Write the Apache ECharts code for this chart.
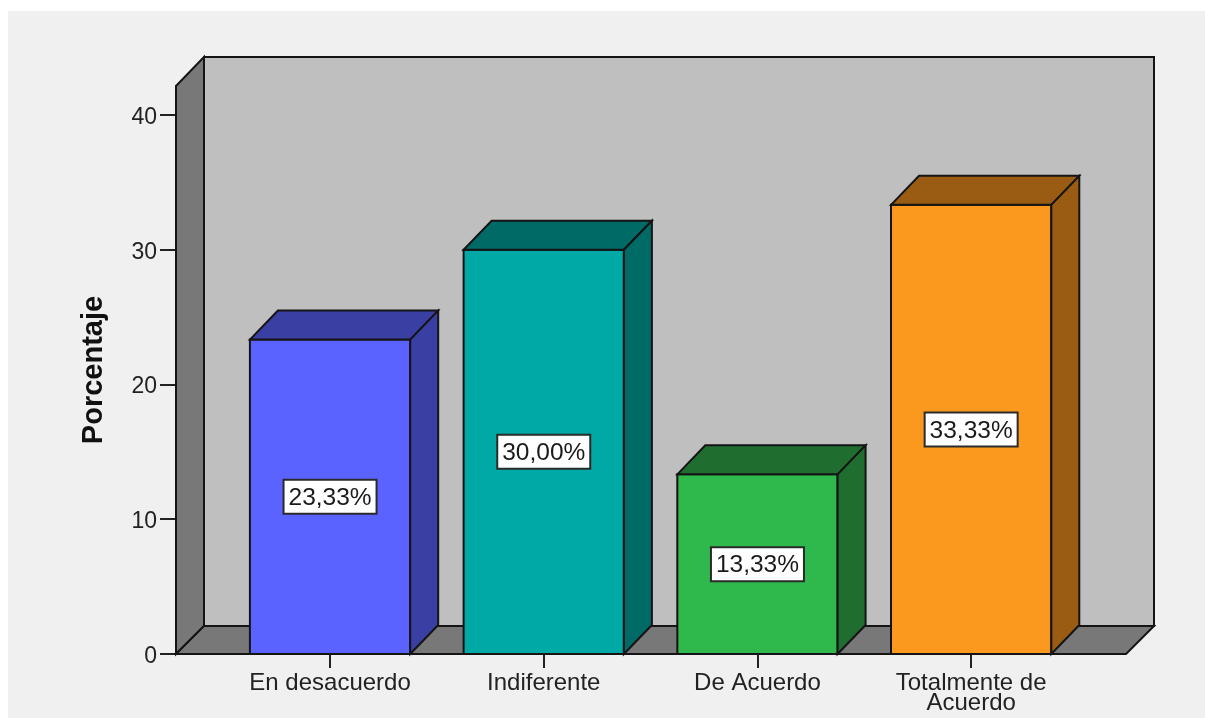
<!DOCTYPE html>
<html>
<head>
<meta charset="utf-8">
<style>
html,body{margin:0;padding:0;background:#fff;width:1205px;height:718px;overflow:hidden}
#panel{position:absolute;left:8px;top:11px;right:0;bottom:0;background:#f0f0f0}
#chart{position:absolute;left:0;top:0;width:1205px;height:718px}
</style>
<script src="https://cdn.jsdelivr.net/npm/echarts@6/dist/echarts.min.js"></script>
</head>
<body>
<div id="panel"></div>
<div id="chart"></div>
<script>
const categories = ['En desacuerdo', 'Indiferente', 'De Acuerdo', 'Totalmente de\nAcuerdo'];
const percentages = [23.33, 30.00, 13.33, 33.33];
const frontColors = ['#5A62FF', '#00A8A6', '#2FB84C', '#FB991F'];
const sideColors = ['#3A3FA3', '#006A66', '#1F6E30', '#9A5C12'];
const yTicks = [0, 10, 20, 30, 40];

const DX = 28, DY = 29, YMAX = 42.15;
const LEFT_GAP = 47.2, RIGHT_GAP = 48;
const STROKE = '#141414';
const FONT = 'Liberation Sans';

function poly(points, fill) {
  return {
    type: 'polygon',
    shape: { points },
    style: { fill, stroke: STROKE, lineWidth: 2, lineJoin: 'miter' }
  };
}

function renderWalls(params, api) {
  const band = api.size([1, 0])[0];
  const first = api.coord([0, 0]);
  const last = api.coord([categories.length - 1, YMAX]);
  const x0 = first[0] - band / 2 - LEFT_GAP;
  const x1 = last[0] + band / 2 + RIGHT_GAP;
  const y0 = first[1];
  const y1 = last[1];
  const floorY = y0 - DY + 1;
  return {
    type: 'group',
    children: [
      poly([[x0 + DX, y1 - DY], [x1 + DX, y1 - DY], [x1 + DX, floorY], [x0 + DX, floorY]], '#BFBFBF'),
      poly([[x0, y1], [x0 + DX, y1 - DY], [x0 + DX, floorY], [x0, y0]], '#787878'),
      poly([[x0, y0], [x0 + DX, floorY], [x1 + DX, floorY], [x1, y0]], '#787878')
    ]
  };
}

function renderBar(params, api) {
  const i = api.value(0);
  const v = api.value(1);
  const band = api.size([1, 0])[0];
  const w = band * 0.75;
  const base = api.coord([i, 0]);
  const top = api.coord([i, v]);
  const mid = api.coord([i, v / 2]);
  const l = base[0] - w / 2, r = base[0] + w / 2;
  return {
    type: 'group',
    children: [
      poly([[l, top[1]], [r, top[1]], [r, base[1]], [l, base[1]]], frontColors[i]),
      poly([[l, top[1]], [l + DX, top[1] - DY], [r + DX, top[1] - DY], [r, top[1]]], sideColors[i]),
      poly([[r, top[1]], [r + DX, top[1] - DY], [r + DX, base[1] - DY], [r, base[1]]], sideColors[i]),
      {
        type: 'rect',
        shape: { x: base[0] - 46.5, y: mid[1] - 17, width: 93, height: 34 },
        style: { fill: '#fff', stroke: '#2a2a2a', lineWidth: 2 }
      },
      {
        type: 'text',
        x: base[0],
        y: mid[1] + 1.5,
        style: {
          text: v.toFixed(2).replace('.', ',') + '%',
          fill: '#1a1a1a',
          font: '24.5px "' + FONT + '"',
          align: 'center',
          verticalAlign: 'middle'
        }
      }
    ]
  };
}

const chart = echarts.init(document.getElementById('chart'), null, { renderer: 'canvas' });
chart.setOption({
  animation: false,
  backgroundColor: 'transparent',
  grid: { left: 223.2, width: 854.8, top: 86, height: 568, containLabel: false },
  xAxis: {
    type: 'category',
    data: categories,
    boundaryGap: true,
    axisLine: { show: false },
    axisTick: { show: true, alignWithLabel: true, length: 14, lineStyle: { color: '#222', width: 2 } },
    axisLabel: {
      interval: 0, margin: 19, color: '#222',
      fontFamily: FONT, fontSize: 24, lineHeight: 20
    }
  },
  yAxis: {
    type: 'value',
    min: 0,
    max: YMAX,
    offset: LEFT_GAP,
    name: 'Porcentaje',
    nameLocation: 'middle',
    nameGap: 68,
    nameTextStyle: { color: '#111', fontFamily: FONT, fontWeight: 'bold', fontSize: 29 },
    splitLine: { show: false },
    axisLine: { show: true, lineStyle: { color: STROKE, width: 2 } },
    axisTick: { show: true, length: 16, customValues: yTicks, lineStyle: { color: '#222', width: 2 } },
    axisLabel: {
      margin: 19, color: '#222', fontFamily: FONT, fontSize: 23, verticalAlign: 'top', lineHeight: 5,
      customValues: yTicks, showMinLabel: true, showMaxLabel: true
    }
  },
  series: [
    {
      type: 'custom',
      coordinateSystem: 'cartesian2d',
      clip: false,
      silent: true,
      z: 1,
      data: [[0, 0]],
      renderItem: renderWalls
    },
    {
      type: 'custom',
      coordinateSystem: 'cartesian2d',
      clip: false,
      z: 2,
      data: percentages.map((v, i) => [i, v]),
      encode: { x: 0, y: 1 },
      renderItem: renderBar
    }
  ]
});
</script>
</body>
</html>
